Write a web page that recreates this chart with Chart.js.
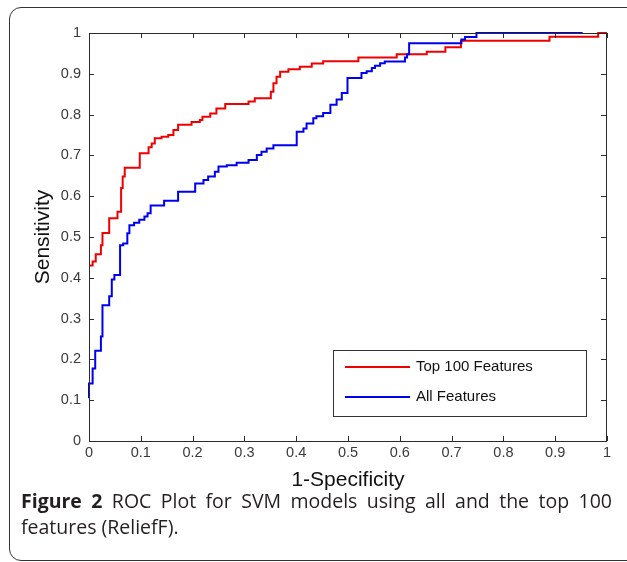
<!DOCTYPE html>
<html>
<head>
<meta charset="utf-8">
<script src="https://cdn.jsdelivr.net/npm/chart.js@4.4.1/dist/chart.umd.min.js"></script>
<style>
  html, body { margin: 0; padding: 0; background: #fff; overflow: hidden; }
  body { width: 627px; height: 562px; position: relative; }
  .frame {
    position: absolute; left: 9px; top: 7px; width: 640px; height: 554px;
    border: 1.5px solid #333; border-radius: 12px; box-sizing: border-box;
  }
  .plot { position: absolute; left: 0; top: 0; width: 627px; height: 500px; }
  .caption {
    position: absolute; left: 21px; top: 488px; width: 591px;
    font-family: "Open Sans", sans-serif; font-size: 19.5px; line-height: 26px; color: #231f20;
  }
  .caption .l1 { text-align: justify; text-align-last: justify; white-space: nowrap; }
  .caption b { font-weight: 700; }
</style>
</head>
<body>
<div class="frame"></div>
<div class="plot"><canvas id="roc"></canvas></div>
<div class="caption">
  <div class="l1"><b>Figure 2</b> ROC Plot for SVM models using all and the top 100</div>
  <div>features (ReliefF).</div>
</div>
<script>
// ROC curves: [1-specificity, sensitivity] at each step
const top100Fpr = [0, 0.007, 0.013, 0.023, 0.026, 0.039, 0.055, 0.062, 0.065, 0.069, 0.098, 0.115, 0.121, 0.127, 0.140,
  0.153, 0.163, 0.172, 0.198, 0.214, 0.219, 0.234, 0.246, 0.263, 0.308, 0.320, 0.351, 0.356, 0.362, 0.369, 0.385,
  0.407, 0.430, 0.452, 0.520, 0.594, 0.652, 0.688, 0.718, 0.889, 0.983, 1.0];
const top100Tpr = [0.43, 0.44, 0.458, 0.48, 0.51, 0.546, 0.562, 0.62, 0.648, 0.67, 0.705, 0.72, 0.729, 0.742, 0.746,
  0.75, 0.762, 0.775, 0.782, 0.787, 0.795, 0.803, 0.815, 0.826, 0.832, 0.840, 0.856, 0.877, 0.893, 0.905, 0.911,
  0.917, 0.925, 0.931, 0.94, 0.948, 0.954, 0.965, 0.981, 0.991, 1.0, 1.0];

const allFpr = [0, 0, 0.007, 0.012, 0.023, 0.026, 0.039, 0.044, 0.049, 0.060, 0.066, 0.074, 0.078, 0.087, 0.097,
  0.107, 0.113, 0.119, 0.145, 0.172, 0.205, 0.221, 0.230, 0.243, 0.250, 0.266, 0.285, 0.308, 0.324, 0.333, 0.343,
  0.356, 0.401, 0.414, 0.420, 0.433, 0.439, 0.452, 0.466, 0.478, 0.488, 0.499, 0.526, 0.536, 0.546, 0.552, 0.562,
  0.571, 0.610, 0.614, 0.618, 0.719, 0.726, 0.748, 0.953];
const allTpr = [0.105, 0.141, 0.178, 0.221, 0.256, 0.333, 0.355, 0.396, 0.407, 0.48, 0.484, 0.509, 0.529, 0.535, 0.542,
  0.55, 0.558, 0.577, 0.589, 0.611, 0.631, 0.640, 0.648, 0.66, 0.673, 0.676, 0.682, 0.689, 0.701, 0.709, 0.717,
  0.725, 0.758, 0.766, 0.778, 0.791, 0.796, 0.804, 0.824, 0.837, 0.853, 0.89, 0.902, 0.906, 0.914, 0.92, 0.926,
  0.93, 0.94, 0.948, 0.975, 0.984, 0.99, 1.0, 1.0];

const seriesNames = ['Top 100 Features', 'All Features'];
const seriesColors = ['#f00000', '#0000f0'];

const xTickLabels = ['0', '0.1', '0.2', '0.3', '0.4', '0.5', '0.6', '0.7', '0.8', '0.9', '1'];
const yTickLabels = ['0', '0.1', '0.2', '0.3', '0.4', '0.5', '0.6', '0.7', '0.8', '0.9', '1'];

const toPoints = (xs, ys) => xs.map((x, i) => ({ x: x, y: ys[i] }));

// matlab style box with inward ticks on all four sides
const axesBox = {
  id: 'axesBox',
  afterDatasetsDraw(chart) {
    const { ctx, chartArea: a, scales: { x, y } } = chart;
    ctx.save();
    ctx.strokeStyle = '#2b2b2b';
    ctx.lineWidth = 1;
    ctx.beginPath();
    ctx.rect(a.left + 0.5, a.top + 0.5, a.right - a.left - 1, a.bottom - a.top);
    x.ticks.forEach(t => {
      const px = Math.round(x.getPixelForValue(t.value)) + 0.5;
      ctx.moveTo(px, a.bottom); ctx.lineTo(px, a.bottom - 5);
      ctx.moveTo(px, a.top); ctx.lineTo(px, a.top + 5);
    });
    y.ticks.forEach(t => {
      const py = Math.round(y.getPixelForValue(t.value)) + 0.5;
      ctx.moveTo(a.left, py); ctx.lineTo(a.left + 5, py);
      ctx.moveTo(a.right, py); ctx.lineTo(a.right - 6, py);
    });
    ctx.stroke();
    ctx.restore();
  }
};

const boxLegend = {
  id: 'boxLegend',
  afterDraw(chart) {
    const { ctx, chartArea: a } = chart;
    const w = 253, h = 66;
    const bx = a.right - 21 - w, by = a.bottom - 25 - h;
    ctx.save();
    ctx.fillStyle = '#fff';
    ctx.fillRect(bx, by, w, h);
    ctx.strokeStyle = '#333';
    ctx.lineWidth = 1;
    ctx.strokeRect(bx + 0.5, by + 0.5, w, h);
    ctx.font = '15px "Liberation Sans", Arial, sans-serif';
    ctx.textBaseline = 'middle';
    seriesNames.forEach((name, i) => {
      const ly = by + 17 + i * 30;
      ctx.strokeStyle = seriesColors[i];
      ctx.lineWidth = 2;
      ctx.beginPath();
      ctx.moveTo(bx + 12, ly); ctx.lineTo(bx + 77, ly);
      ctx.stroke();
      ctx.fillStyle = '#111';
      ctx.fillText(name, bx + 83, ly);
    });
    ctx.restore();
  }
};

const tickFont = { family: '"Liberation Sans", Arial, sans-serif', size: 14.5 };
const titleFont = { family: '"Liberation Sans", Arial, sans-serif', size: 21 };

new Chart(document.getElementById('roc'), {
  type: 'line',
  data: {
    datasets: [
      {
        label: seriesNames[0], data: toPoints(top100Fpr, top100Tpr),
        borderColor: seriesColors[0], borderWidth: 2, stepped: 'before',
        pointRadius: 0, fill: false, clip: false, order: 2
      },
      {
        label: seriesNames[1], data: toPoints(allFpr, allTpr),
        borderColor: seriesColors[1], borderWidth: 2, stepped: 'before',
        pointRadius: 0, fill: false, clip: false, order: 1
      }
    ]
  },
  options: {
    responsive: true,
    maintainAspectRatio: false,
    animation: false,
    layout: { padding: { top: 33, right: 20, left: 0, bottom: 0 } },
    plugins: { legend: { display: false }, tooltip: { enabled: false } },
    scales: {
      x: {
        type: 'linear', min: 0, max: 1,
        afterFit: s => { s.height = 59; },
        grid: { drawOnChartArea: false, drawTicks: false },
        border: { display: false },
        ticks: {
          stepSize: 0.1, padding: 3, maxRotation: 0, autoSkip: false,
          font: tickFont, color: '#3a3a3a',
          callback: (v, i) => xTickLabels[i]
        },
        title: {
          display: true, text: '1-Specificity', color: '#111',
          font: titleFont, padding: { top: 0, bottom: 7 }
        }
      },
      y: {
        type: 'linear', min: 0, max: 1,
        afterFit: s => { s.width = 89; },
        grid: { drawOnChartArea: false, drawTicks: false },
        border: { display: false },
        ticks: {
          stepSize: 0.1, padding: 8, autoSkip: false,
          font: tickFont, color: '#3a3a3a',
          callback: (v, i) => yTickLabels[i]
        },
        title: {
          display: true, text: 'Sensitivity', color: '#111',
          font: titleFont, padding: { top: 31, bottom: 0 }
        }
      }
    }
  },
  plugins: [axesBox, boxLegend]
});
</script>
</body>
</html>
